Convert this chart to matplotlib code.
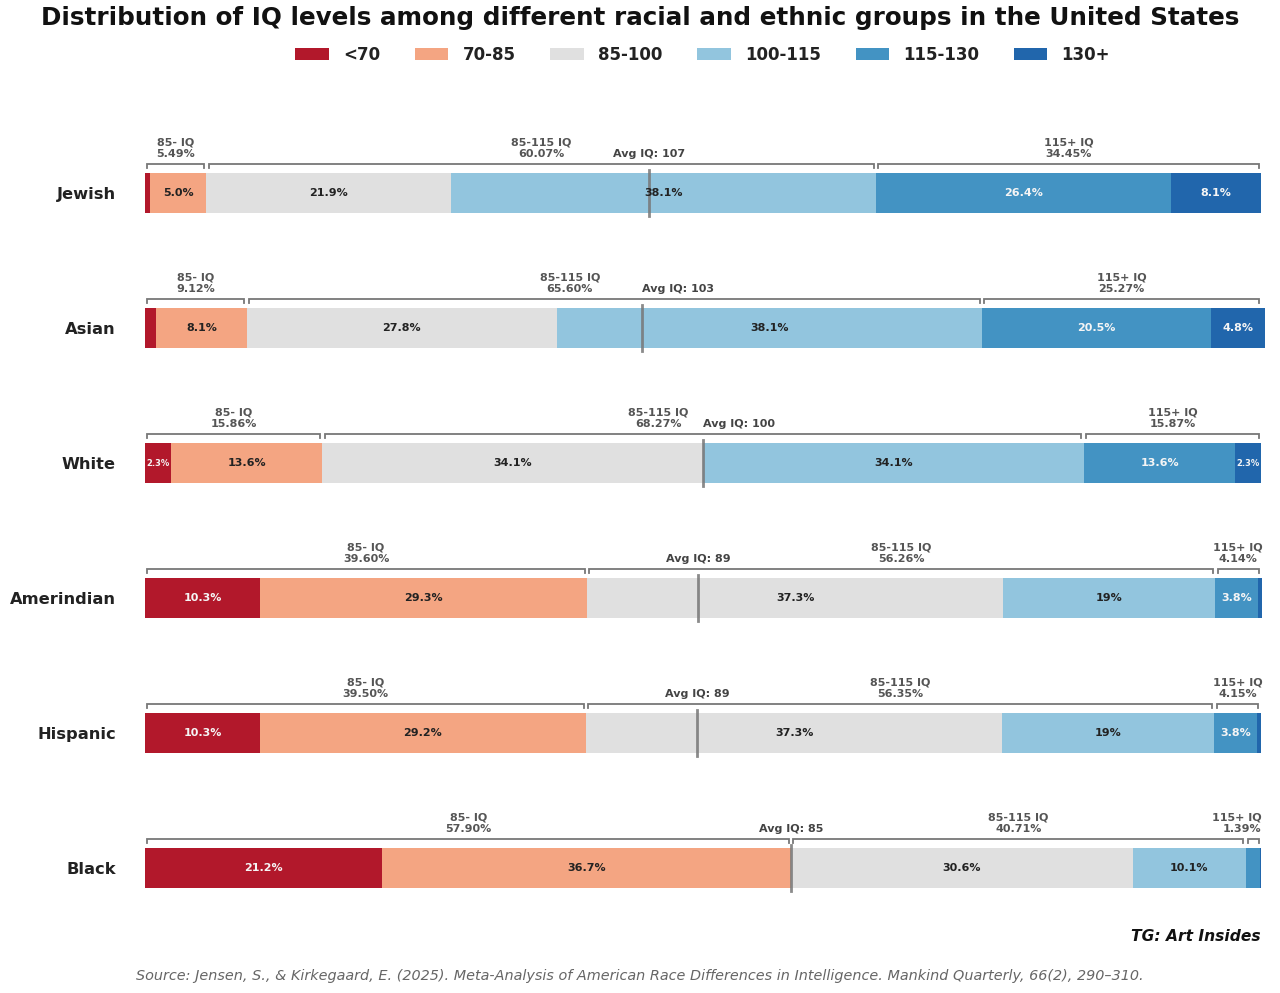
import matplotlib
matplotlib.use("Agg")
import matplotlib.pyplot as plt
from matplotlib.patches import Patch

# ---- data ----
groups = ["Jewish", "Asian", "White", "Amerindian", "Hispanic", "Black"]
bins = ["<70", "70-85", "85-100", "100-115", "115-130", "130+"]
bin_edges = [0, 70, 85, 100, 115, 130, 200]

# percent of group in each IQ bin
seg_jewish = [0.49, 5.0, 21.9, 38.1, 26.4, 8.1]
seg_asian = [1.0, 8.1, 27.8, 38.1, 20.5, 4.8]
seg_white = [2.3, 13.6, 34.1, 34.1, 13.6, 2.3]
seg_amerindian = [10.3, 29.3, 37.3, 19, 3.8, 0.34]
seg_hispanic = [10.3, 29.2, 37.3, 19, 3.8, 0.35]
seg_black = [21.2, 36.7, 30.6, 10.1, 1.3, 0.09]
segments = [seg_jewish, seg_asian, seg_white, seg_amerindian, seg_hispanic, seg_black]

# bracket totals as printed
low_pct = [5.49, 9.12, 15.86, 39.60, 39.50, 57.90]
mid_pct = [60.07, 65.60, 68.27, 56.26, 56.35, 40.71]
high_pct = [34.45, 25.27, 15.87, 4.14, 4.15, 1.39]
avg_iq = [107, 103, 100, 89, 89, 85]

colors = ["#b2182b", "#f4a582", "#e0e0e0", "#92c5de", "#4393c3", "#2166ac"]
text_colors = ["#f5f5f5", "#222222", "#222222", "#222222", "#f5f5f5", "#f5f5f5"]

fig = plt.figure(figsize=(12.8, 9.93), dpi=100)
ax = fig.add_axes([0.1133, 0.0715, 0.8807, 0.8361])

bar_h = 0.3
for i, vals in enumerate(segments):
    left = 0
    for j, v in enumerate(vals):
        ax.barh(i, v, left=left, height=bar_h, color=colors[j], edgecolor="none")
        if v >= 2:
            fs = 6 if v < 3 else 8
            ax.text(left + v / 2, i, f"{v}%", ha="center", va="center",
                    fontsize=fs, fontweight="bold", color=text_colors[j])
        left += v

    # brackets above the bar
    total = sum(vals)
    low_end = vals[0] + vals[1]
    mid_end = low_end + vals[2] + vals[3]
    spans = [(0, low_end), (low_end, mid_end), (mid_end, min(total, 100))]
    labels = [f"85- IQ\n{low_pct[i]:.2f}%", f"85-115 IQ\n{mid_pct[i]:.2f}%",
              f"115+ IQ\n{high_pct[i]:.2f}%"]

    # average marker position (linear within its bin)
    k = next(b for b in range(6) if bin_edges[b] <= avg_iq[i] < bin_edges[b + 1])
    frac = (avg_iq[i] - bin_edges[k]) / (bin_edges[k + 1] - bin_edges[k])
    avg_x = sum(vals[:k]) + frac * vals[k]

    by = i - 0.215
    for (a, b), lab in zip(spans, labels):
        a2, b2 = a + 0.2, b - 0.2
        ax.plot([a2, a2, b2, b2], [by + 0.03, by, by, by + 0.03],
                color="#777777", lw=1.3, solid_joinstyle="miter")
        cx, ha = (a + b) / 2, "center"
        if lab.startswith("85-115") and abs(cx - avg_x) < 8:
            cx -= 4
        if b - a < 2:
            cx, ha = 100, "right"
        ax.text(cx, by - 0.04, lab, ha=ha, va="bottom", fontsize=8,
                fontweight="bold", color="#555555", linespacing=1.15)

    ax.plot([avg_x, avg_x], [i - 0.17, i + 0.17], color="#777777", lw=2, alpha=0.85)
    mid_cx = sum(spans[1]) / 2
    tx = avg_x + 3.2 if abs(mid_cx - avg_x) < 8 else avg_x
    ax.text(tx, by - 0.04, f"Avg IQ: {avg_iq[i]}", ha="center", va="bottom",
            fontsize=8, fontweight="bold", color="#444444")

ax.set_xlim(0, 101)
ax.set_ylim(5.4, -0.75)
ax.set_yticks(range(len(groups)))
ax.set_yticklabels(groups, fontsize=11.7, fontweight="bold", color="#222222")
ax.tick_params(axis="y", length=0, pad=21)
ax.set_xticks([])
for s in ax.spines.values():
    s.set_visible(False)

fig.text(0.5, 0.982, "Distribution of IQ levels among different racial and ethnic groups in the United States",
         ha="center", va="center", fontsize=17.7, fontweight="bold", color="#111111")

handles = [Patch(facecolor=c, label=b) for c, b in zip(colors, bins)]
fig.legend(handles=handles, loc="center", bbox_to_anchor=(0.549, 0.945), ncol=6,
           frameon=False, prop={"size": 12, "weight": "bold"},
           handlelength=2.0, handleheight=0.7, columnspacing=2.1, handletextpad=0.85)
for t in fig.legends[0].get_texts():
    t.set_color("#222222")

fig.text(0.985, 0.057, "TG: Art Insides", ha="right", va="center", fontsize=11.2,
         fontweight="bold", style="italic", color="#111111")
fig.text(0.5, 0.017,
         "Source: Jensen, S., & Kirkegaard, E. (2025). Meta-Analysis of American Race Differences in Intelligence. Mankind Quarterly, 66(2), 290\u2013310.",
         ha="center", va="center", fontsize=10.4, style="italic", color="#666666")

fig.savefig("out.png", dpi=100)
